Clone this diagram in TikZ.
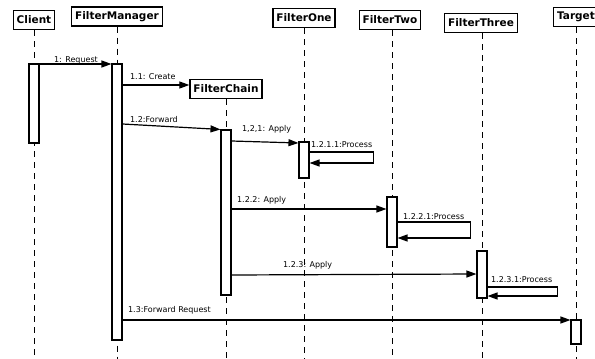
\documentclass[tikz,border=0pt]{standalone}
\usepackage{fontspec}
\setmainfont{DejaVu Sans}
\usetikzlibrary{arrows.meta,calc}
\tikzstyle{object}=[draw,line width=1.3pt,fill=white,font=\fontsize{10.5}{12}\selectfont\bfseries,inner xsep=3.5pt,minimum height=19pt]
\tikzstyle{activation}=[draw,line width=1.1pt,fill=white,minimum width=10pt,inner sep=0pt]
\tikzstyle{lifeline}=[draw,line width=0.8pt,dash pattern=on 6pt off 5pt]
\tikzstyle{message}=[draw,line width=1.2pt,-{Triangle[length=10pt,width=7pt]}]
\tikzstyle{msglabel}=[font=\fontsize{8}{9.6}\selectfont,inner sep=0pt,anchor=base west]

\begin{document}
\begin{tikzpicture}[x=1pt,y=-1pt]
    \useasboundingbox (0,0) rectangle (595,359);
    % First the objects and their lifelines
    \foreach \pos/\name/\word in {{(34,20)/client/Client},{(117,16.5)/manager/FilterManager},
        {(226,89)/chain/FilterChain},{(304,18)/one/FilterOne},{(390,20)/two/FilterTwo},
        {(481,23)/three/FilterThree},{(576,17)/target/Target}}
        \node[object] (\name) at \pos {\word};

    \foreach \name/\x in {client/34,manager/117,chain/226,one/304,two/392,three/482,target/576}
        \path[lifeline] (\x,0 |- \name.south) -- (\x,359);

    % Then the activation bars
    \foreach \name/\x/\top/\bot in {client/34/64/143,manager/117/64/340,chain/226/130/295,
        one/304/142/178,two/392/197/247,three/482/251/298,target/576/320/344}
        \node[activation,minimum height={(\bot-\top)*1pt}] (act-\name) at (\x,{(\top+\bot)/2}) {};

    % Messages between the bars
    \path[message] (act-client.east |- 0,64) -- node[msglabel,pos=0,xshift=14pt,yshift=2pt] {1: Request} (act-manager.west |- 0,64);
    \path[message] (act-manager.east |- 0,85) -- node[msglabel,pos=0,xshift=7pt,yshift=6pt] {1.1: Create} (chain.west |- 0,85);
    \path[message] (act-manager.east |- 0,124) -- node[msglabel,pos=0,xshift=7pt,yshift=2pt] {1.2:Forward} (act-chain.north west);
    \path[message] (act-chain.east |- 0,141) -- node[msglabel,pos=0,xshift=10pt,yshift=9.5pt] {1,2,1: Apply} (act-one.west |- 0,143);
    \path[message] (act-chain.east |- 0,209) -- node[msglabel,pos=0,xshift=5pt,yshift=7pt] {1.2.2: Apply} (act-two.west |- 0,209);
    \path[message] (act-chain.east |- 0,275) -- node[msglabel,pos=0,xshift=51pt,yshift=8pt] {1.2.3: Apply} (act-three.west |- 0,274);
    \path[message] (act-manager.east |- 0,320) -- node[msglabel,pos=0,xshift=5pt,yshift=8pt] {1.3:Forward Request} (act-target.west |- 0,320);

    % Self calls
    \path[message] (act-one.east |- 0,152) -- node[msglabel,pos=0,xshift=1pt,yshift=5pt] {1.2.1.1:Process}
        ++(64,0) -- ++(0,11) -- (act-one.east |- 0,163);
    \path[message] (act-two.east |- 0,222) -- node[msglabel,pos=0,xshift=5pt,yshift=3pt] {1.2.2.1:Process}
        ++(73,0) -- ++(0,16) -- (act-two.east |- 0,238);
    \path[message] (act-three.east |- 0,287) -- node[msglabel,pos=0,xshift=3pt,yshift=5pt] {1.2.3.1:Process}
        ++(70,0) -- ++(0,9) -- (act-three.east |- 0,296);
\end{tikzpicture}
\end{document}
